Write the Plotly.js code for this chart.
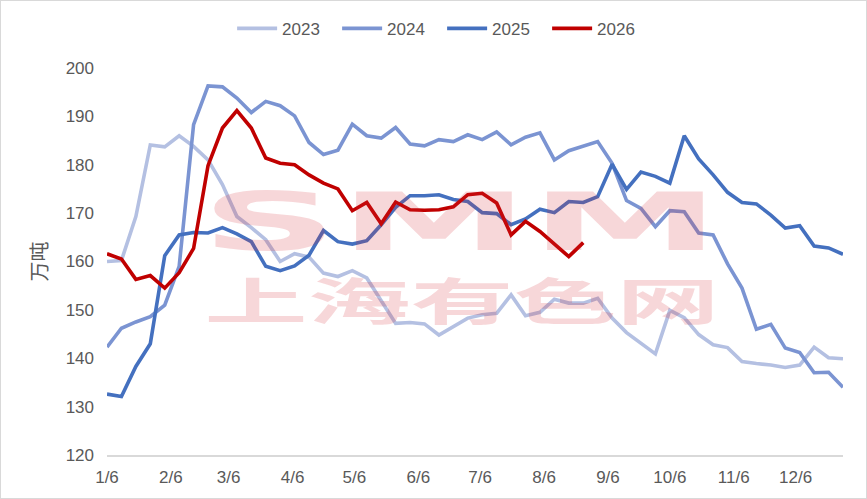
<!DOCTYPE html>
<html>
<head>
<meta charset="utf-8">
<script src="https://cdn.plot.ly/plotly-3.0.1.min.js"></script>
<style>
  html, body { margin: 0; padding: 0; background: #fff; }
  #chart { width: 865px; height: 497px; border: 1px solid #d9d9d9; }
</style>
</head>
<body>
<div id="chart"></div>
<script>
// weekly points, drawn on a common Jan-Dec axis
var weeks = ["2025-01-06","2025-01-13","2025-01-20","2025-01-27","2025-02-03","2025-02-10","2025-02-17","2025-02-24",
  "2025-03-03","2025-03-10","2025-03-17","2025-03-24","2025-03-31","2025-04-07","2025-04-14","2025-04-21","2025-04-28",
  "2025-05-05","2025-05-12","2025-05-19","2025-05-26","2025-06-02","2025-06-09","2025-06-16","2025-06-23","2025-06-30",
  "2025-07-07","2025-07-14","2025-07-21","2025-07-28","2025-08-04","2025-08-11","2025-08-18","2025-08-25",
  "2025-09-01","2025-09-08","2025-09-15","2025-09-22","2025-09-29","2025-10-06","2025-10-13","2025-10-20","2025-10-27",
  "2025-11-03","2025-11-10","2025-11-17","2025-11-24","2025-12-01","2025-12-08","2025-12-15","2025-12-22","2025-12-29"];

var tickDates = ["2025-01-06","2025-02-06","2025-03-06","2025-04-06","2025-05-06","2025-06-06",
  "2025-07-06","2025-08-06","2025-09-06","2025-10-06","2025-11-06","2025-12-06"];
var tickText = ["1/6","2/6","3/6","4/6","5/6","6/6","7/6","8/6","9/6","10/6","11/6","12/6"];

var y2023 = [160.0,160.2,169.3,184.1,183.7,186.0,183.8,181.0,175.9,169.3,
  167.0,164.5,160.0,161.6,160.9,157.6,156.9,158.1,156.6,151.9,
  147.2,147.4,147.1,144.8,146.5,148.3,149.0,149.3,153.1,148.8,
  149.5,152.2,151.4,151.4,152.4,148.3,145.3,143.2,140.9,149.9,
  148.4,144.9,142.8,142.2,139.3,138.9,138.6,138.1,138.6,142.3,
  140.1,139.9];

var y2024 = [142.3,146.2,147.5,148.6,151.0,159.0,188.3,196.3,196.1,193.8,
  190.8,193.1,192.2,190.1,184.6,182.1,183.0,188.4,186.0,185.5,
  187.7,184.3,183.9,185.2,184.8,186.2,185.2,186.8,184.1,185.7,
  186.6,181.0,182.9,183.9,184.8,180.3,172.6,171.0,167.2,170.5,
  170.3,165.9,165.5,159.5,154.5,146.0,147.0,142.1,141.2,137.0,
  137.1,134.0];

var y2025 = [132.6,132.1,138.3,143.0,161.2,165.5,166.0,165.9,167.0,165.7,
  164.1,159.0,158.1,159.1,161.3,166.4,164.1,163.6,164.3,167.6,
  171.2,173.6,173.6,173.8,172.8,172.4,170.1,169.9,167.6,168.8,
  170.8,170.1,172.4,172.2,173.4,180.1,174.9,178.5,177.6,176.2,
  186.0,181.2,177.9,174.3,172.2,171.9,169.6,166.9,167.4,163.2,
  162.8,161.5];

var y2026 = [161.6,160.5,156.3,157.1,154.5,157.7,162.7,179.8,187.6,191.2,
  187.6,181.4,180.3,180.0,177.9,176.2,175.0,170.5,172.2,167.8,
  172.3,170.7,170.6,170.7,171.3,173.8,174.1,172.1,165.5,168.3,
  166.2,163.7,161.0,163.9];

var grey = "#595959";
var font = "Liberation Sans, Arial, sans-serif";

function series(name, ys, color) {
  return {
    x: weeks.slice(0, ys.length),
    y: ys,
    name: name,
    type: "scatter",
    mode: "lines",
    line: { color: color, width: 3.6 },
    hoverinfo: "x+y+name"
  };
}

var data = [
  series("2023", y2023, "#b4c0e2"),
  series("2024", y2024, "#7b94d2"),
  series("2025", y2025, "#4470bf"),
  series("2026", y2026, "#c00000")
];

var layout = {
  width: 865,
  height: 497,
  margin: { l: 106, r: 23, t: 67, b: 43 },
  paper_bgcolor: "#fff",
  plot_bgcolor: "#fff",
  font: { family: font, size: 17, color: grey },
  showlegend: true,
  legend: {
    orientation: "h",
    x: 0.17, xanchor: "left",
    yref: "container",
    y: 0.944, yanchor: "middle",
    font: { size: 17, color: grey },
    itemwidth: 40,
    entrywidth: 50,
    entrywidthmode: "pixels"
  },
  xaxis: {
    type: "date",
    range: ["2025-01-06", "2025-12-29"],
    tickvals: tickDates,
    ticktext: tickText,
    showgrid: false,
    zeroline: false,
    showline: true,
    linecolor: "#d9d9d9",
    linewidth: 1.5,
    ticks: "",
    ticklabelstandoff: 6,
    tickfont: { size: 17, color: grey }
  },
  yaxis: {
    range: [120, 200],
    dtick: 10,
    showgrid: false,
    zeroline: false,
    showline: false,
    ticks: "",
    ticklabelstandoff: 12,
    tickfont: { size: 17, color: grey },
    title: {
      text: "万吨",
      standoff: 12,
      font: { family: "Noto Sans CJK SC, sans-serif", size: 20, color: grey }
    }
  },
  // SMM watermark, drawn over the lines
  annotations: [
    {
      text: "<b>SMM</b>",
      xref: "paper", yref: "paper",
      x: 0.48, y: 0.602,
      xanchor: "center", yanchor: "middle",
      showarrow: false,
      font: { family: "DejaVu Sans, sans-serif", size: 80, color: "rgba(215,45,55,0.19)" }
    },
    {
      text: "<b>上海有色网</b>",
      xref: "paper", yref: "paper",
      x: 0.482, y: 0.405,
      xanchor: "center", yanchor: "middle",
      showarrow: false,
      font: { family: "Noto Sans CJK SC, sans-serif", size: 50, color: "rgba(215,45,55,0.19)" }
    }
  ]
};

Plotly.newPlot("chart", data, layout, { displayModeBar: false, staticPlot: true }).then(function () {
  // stretch the watermark text to the logo's width
  var widths = [520, 515];
  var texts = document.querySelectorAll("#chart .annotation-text");
  for (var i = 0; i < texts.length && i < widths.length; i++) {
    texts[i].setAttribute("textLength", widths[i]);
    texts[i].setAttribute("lengthAdjust", "spacingAndGlyphs");
  }
});
</script>
</body>
</html>
